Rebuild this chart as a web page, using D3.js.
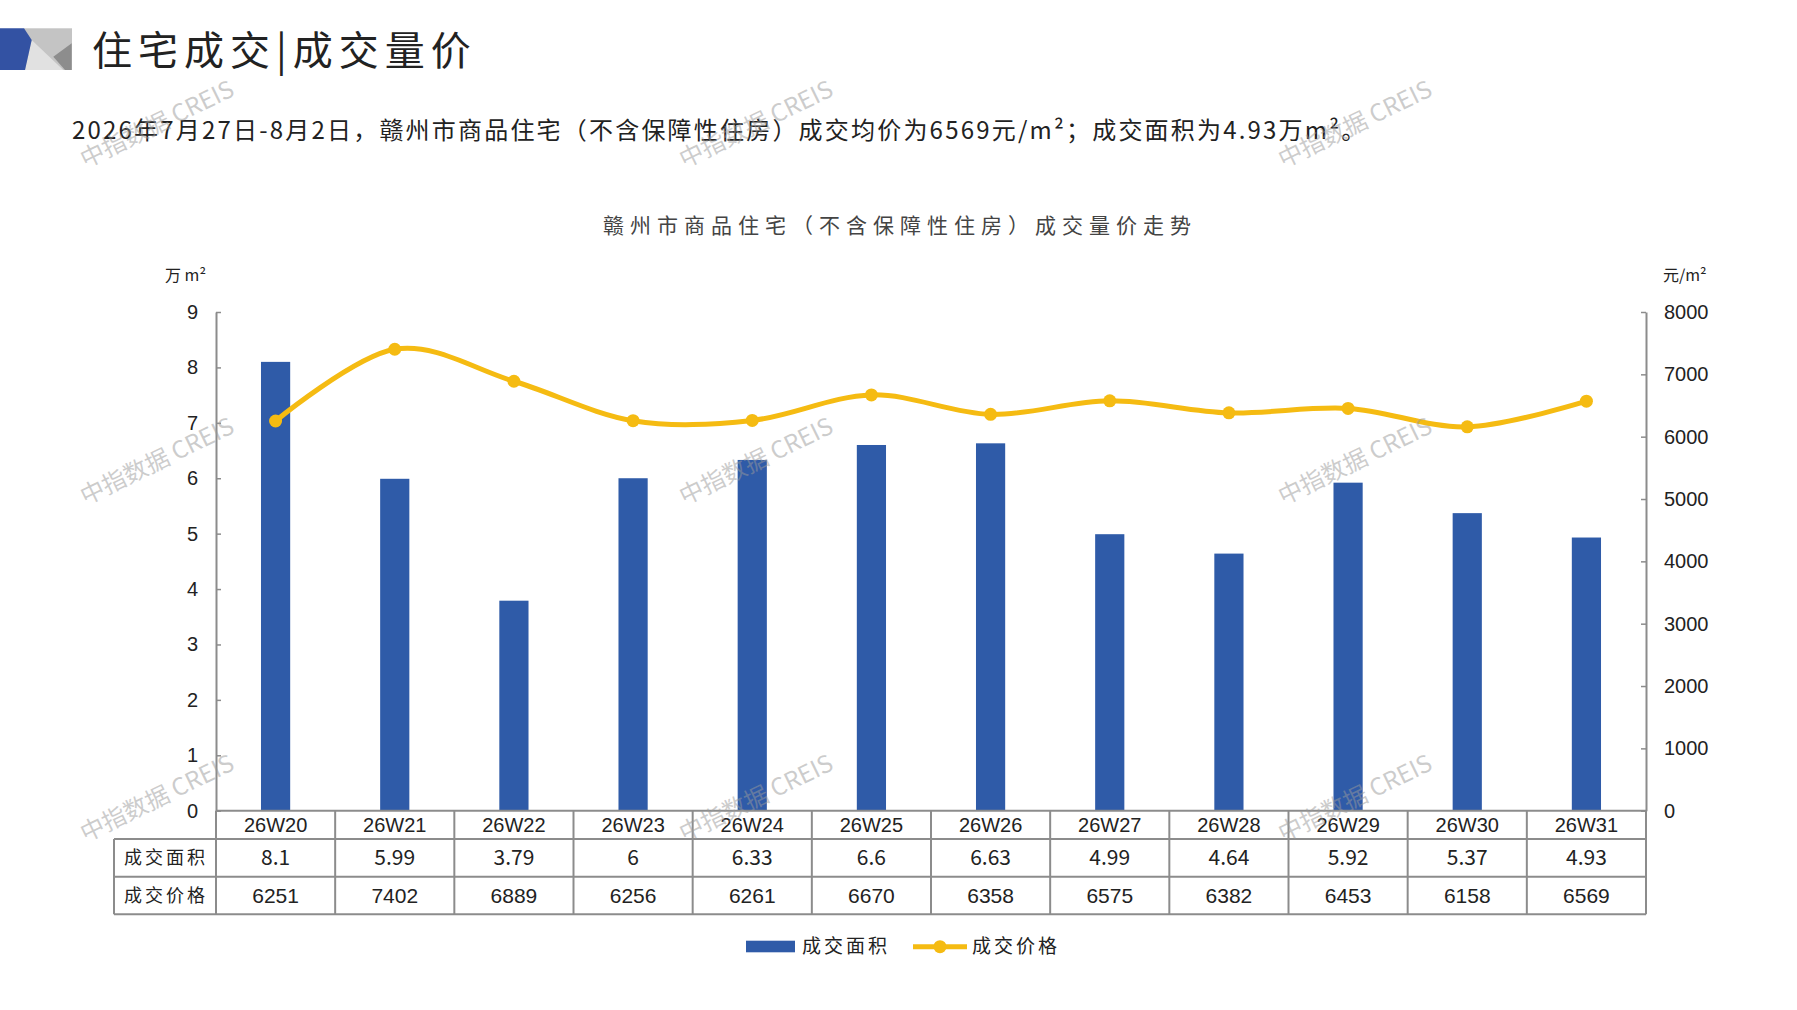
<!DOCTYPE html>
<html>
<head>
<meta charset="utf-8">
<script src="https://cdn.jsdelivr.net/npm/d3@7"></script>
<style>
  body { margin: 0; background: #fff; }
  text { fill: #222; }
</style>
</head>
<body>
<div id="chart"></div>
<script>
// Data
var weeks = ["26W20","26W21","26W22","26W23","26W24","26W25","26W26","26W27","26W28","26W29","26W30","26W31"];
var areaVals = [8.1, 5.99, 3.79, 6, 6.33, 6.6, 6.63, 4.99, 4.64, 5.92, 5.37, 4.93];
var priceVals = [6251, 7402, 6889, 6256, 6261, 6670, 6358, 6575, 6382, 6453, 6158, 6569];
var leftTicks = [0,1,2,3,4,5,6,7,8,9];
var rightTicks = [0,1000,2000,3000,4000,5000,6000,7000,8000];
var rowLabels = ["成交面积", "成交价格"];
var seriesNames = ["成交面积", "成交价格"];

var W = 1797, H = 1010;
var plot = {left: 216, right: 1646, top: 312, bottom: 810.7};
var rowH = [28.3, 37.7, 37.6];
var tableLeft = 114;

var barColor = "#2f5ba8", lineColor = "#f5bb12", gridColor = "#8c8c8c";
var cjk = "'Noto Sans CJK SC', sans-serif";

var svg = d3.select("#chart").append("svg")
    .attr("width", W)
    .attr("height", H);

svg.append("rect").attr("width", W).attr("height", H).attr("fill", "#fff");

// header logo
var logo = svg.append("g");
logo.append("rect").attr("x", 24).attr("y", 28.3).attr("width", 48).attr("height", 41.7).attr("fill", "#c4c4c4");
logo.append("path").attr("d", "M31.7,40 L25,70 L63.3,70 Z").attr("fill", "#e1e1e1");
logo.append("path").attr("d", "M71.7,43.3 L53.3,56.7 L65,70 L71.7,70 Z").attr("fill", "#8d8d8d");
logo.append("path").attr("d", "M0,28.3 L24,28.3 L31.7,40 L25,70 L0,70 Z").attr("fill", "#3352a3");

svg.append("text")
    .attr("x", 92).attr("y", 65)
    .style("font-family", cjk).style("font-size", "40px").style("letter-spacing", "6px")
    .text("住宅成交|成交量价");

svg.append("text")
    .attr("x", 72).attr("y", 139)
    .style("font-family", cjk).style("font-size", "24px").style("letter-spacing", "2.2px")
    .text("2026年7月27日-8月2日，赣州市商品住宅（不含保障性住房）成交均价为6569元/m²；成交面积为4.93万m²。");

// chart title
svg.append("text")
    .attr("x", 900).attr("y", 233)
    .attr("text-anchor", "middle")
    .style("font-family", cjk).style("font-size", "21px").style("letter-spacing", "6px")
    .style("fill", "#444")
    .text("赣州市商品住宅（不含保障性住房）成交量价走势");

// scales
var x = d3.scaleBand().domain(weeks).range([plot.left, plot.right]);
var yL = d3.scaleLinear().domain([0, 9]).range([plot.bottom, plot.top]);
var yR = d3.scaleLinear().domain([0, 8000]).range([plot.bottom, plot.top]);
var bw = x.bandwidth() * 0.245;

// axes
var axL = svg.append("g")
    .attr("transform", "translate(" + plot.left + ",0)")
    .call(d3.axisLeft(yL).tickValues(leftTicks).tickSizeInner(-5).tickSizeOuter(0).tickPadding(18));
var axR = svg.append("g")
    .attr("transform", "translate(" + plot.right + ",0)")
    .call(d3.axisRight(yR).tickValues(rightTicks).tickFormat(d3.format("d"))
        .tickSizeInner(-5).tickSizeOuter(0).tickPadding(18));
[axL, axR].forEach(function(ax) {
    ax.select(".domain").attr("stroke", gridColor).attr("stroke-width", 2);
    ax.selectAll(".tick line").attr("stroke", gridColor).attr("stroke-width", 1.5);
    ax.selectAll(".tick text")
        .style("font-family", "'Liberation Sans', Arial, sans-serif")
        .style("font-size", "20px")
        .attr("fill", "#222");
});

// unit labels
svg.append("text").attr("x", 165).attr("y", 281)
    .style("font-family", cjk).style("font-size", "16px").text("万 m²");
svg.append("text").attr("x", 1663).attr("y", 281)
    .style("font-family", cjk).style("font-size", "16px").text("元/m²");

// bars
svg.append("g").selectAll("rect")
    .data(weeks)
    .enter().append("rect")
    .attr("x", function(d) { return x(d) + (x.bandwidth() - bw) / 2; })
    .attr("y", function(d, i) { return yL(areaVals[i]); })
    .attr("width", bw)
    .attr("height", function(d, i) { return yL(0) - yL(areaVals[i]); })
    .attr("fill", barColor);

// price line
var cx = function(d, i) { return x(weeks[i]) + x.bandwidth() / 2; };
var line = d3.line()
    .x(cx)
    .y(function(d) { return yR(d); })
    .curve(d3.curveCardinal.tension(0));

svg.append("path")
    .datum(priceVals)
    .attr("d", line)
    .attr("fill", "none")
    .attr("stroke", lineColor)
    .attr("stroke-width", 5);

svg.append("g").selectAll("circle")
    .data(priceVals)
    .enter().append("circle")
    .attr("cx", cx)
    .attr("cy", function(d) { return yR(d); })
    .attr("r", 6.5)
    .attr("fill", lineColor);

// data table
var table = svg.append("g");
var y0 = plot.bottom, y1 = y0 + rowH[0], y2 = y1 + rowH[1], y3 = y2 + rowH[2];
var hLines = [[plot.left, y0], [tableLeft, y1], [tableLeft, y2], [tableLeft, y3]];
hLines.forEach(function(h) {
    table.append("line").attr("x1", h[0]).attr("x2", plot.right)
        .attr("y1", h[1]).attr("y2", h[1])
        .attr("stroke", gridColor).attr("stroke-width", 2);
});
var colEdges = weeks.map(function(w) { return x(w); }).concat([plot.right]);
colEdges.forEach(function(cxe) {
    table.append("line").attr("x1", cxe).attr("x2", cxe)
        .attr("y1", y0).attr("y2", y3)
        .attr("stroke", gridColor).attr("stroke-width", 2);
});
table.append("line").attr("x1", tableLeft).attr("x2", tableLeft)
    .attr("y1", y1).attr("y2", y3)
    .attr("stroke", gridColor).attr("stroke-width", 2);

table.selectAll(".cat")
    .data(weeks)
    .enter().append("text")
    .attr("class", "cat")
    .attr("x", function(d) { return x(d) + x.bandwidth() / 2; })
    .attr("y", (y0 + y1) / 2)
    .attr("dy", "0.36em")
    .attr("text-anchor", "middle")
    .style("font-family", "'Liberation Sans Narrow', 'Liberation Sans', sans-serif")
    .style("font-size", "20px")
    .text(function(d) { return d; });

table.selectAll(".rowlabel")
    .data(rowLabels)
    .enter().append("text")
    .attr("class", "rowlabel")
    .attr("x", (tableLeft + plot.left) / 2 + 1)
    .attr("y", function(d, i) { return i == 0 ? (y1 + y2) / 2 : (y2 + y3) / 2; })
    .attr("dy", "0.35em")
    .attr("text-anchor", "middle")
    .style("font-family", cjk).style("font-size", "18px").style("letter-spacing", "3px")
    .text(function(d) { return d; });

table.selectAll(".areaval")
    .data(areaVals)
    .enter().append("text")
    .attr("class", "areaval")
    .attr("x", cx)
    .attr("y", (y1 + y2) / 2)
    .attr("dy", "0.36em")
    .attr("text-anchor", "middle")
    .style("font-family", cjk).style("font-size", "21px")
    .text(function(d) { return String(d); });

table.selectAll(".priceval")
    .data(priceVals)
    .enter().append("text")
    .attr("class", "priceval")
    .attr("x", cx)
    .attr("y", (y2 + y3) / 2)
    .attr("dy", "0.36em")
    .attr("text-anchor", "middle")
    .style("font-family", "'Liberation Sans Narrow', 'Liberation Sans', sans-serif")
    .style("font-size", "21px")
    .text(function(d) { return d; });

// legend
var legend = svg.append("g");
legend.append("rect").attr("x", 746).attr("y", 940.7).attr("width", 49).attr("height", 11.6).attr("fill", barColor);
legend.append("text").attr("x", 802).attr("y", 946.5).attr("dy", "0.35em")
    .style("font-family", cjk).style("font-size", "19px").style("letter-spacing", "3px")
    .text(seriesNames[0]);
legend.append("line").attr("x1", 913).attr("x2", 967).attr("y1", 946.7).attr("y2", 946.7)
    .attr("stroke", lineColor).attr("stroke-width", 5);
legend.append("circle").attr("cx", 940).attr("cy", 946.7).attr("r", 6.5).attr("fill", lineColor);
legend.append("text").attr("x", 972).attr("y", 946.5).attr("dy", "0.35em")
    .style("font-family", cjk).style("font-size", "19px").style("letter-spacing", "3px")
    .text(seriesNames[1]);

// watermarks
var wmX = [157, 756, 1355], wmY = [124, 461, 798];
wmY.forEach(function(wy) {
    wmX.forEach(function(wx) {
        svg.append("text")
            .attr("transform", "translate(" + wx + "," + wy + ") rotate(-26)")
            .attr("text-anchor", "middle")
            .attr("dy", "0.35em")
            .style("font-family", cjk).style("font-size", "24px")
            .style("fill", "#9a9a9a").style("fill-opacity", 0.5)
            .text("中指数据 CREIS");
    });
});
</script>
</body>
</html>
